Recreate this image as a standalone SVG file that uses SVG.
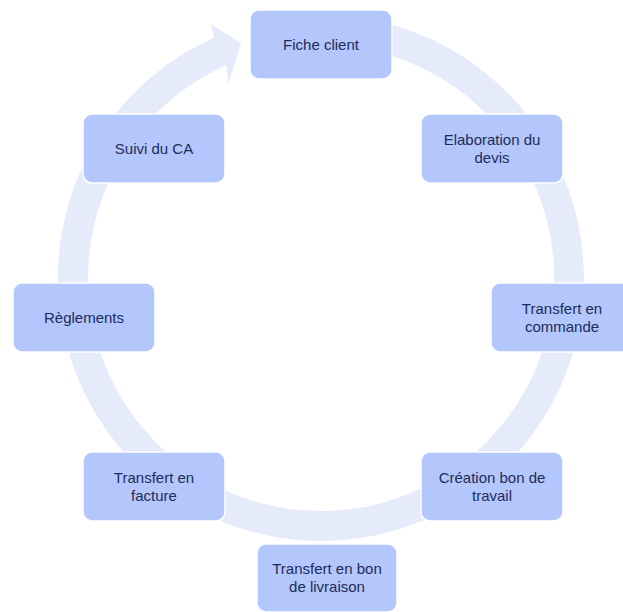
<svg xmlns="http://www.w3.org/2000/svg" width="623" height="612" viewBox="0 0 623 612">
<style>
.node rect{fill:#B3C7FC;stroke:#FFFFFF;stroke-width:1.5}
.node text{font-family:"Liberation Sans",Arial,sans-serif;font-size:15px;fill:#1E2B5B;text-anchor:middle}
.ring{fill:#E6EBFC}
</style>
<rect width="623" height="612" fill="#FFFFFF"/>
<g id="connectors">
<path class="ring" d="M 321 15 A 263 263 0 1 1 214.0 37.7 L 210.6 24.0 L 241.1 43.2 L 228.4 83.9 L 226.2 65.2 A 233 233 0 1 0 321 45 Z"/>
</g>
<g id="node-fiche-client" class="node">
<rect x="250" y="10" width="142" height="69" rx="9"/>
<text x="321" y="49.5">Fiche client</text>
</g>
<g id="node-elaboration-devis" class="node">
<rect x="421" y="114" width="142" height="69" rx="9"/>
<text x="492" y="144.8">Elaboration du<tspan x="492" y="162.6">devis</tspan></text>
</g>
<g id="node-transfert-commande" class="node">
<rect x="491" y="283" width="142" height="69" rx="9"/>
<text x="562" y="313.8">Transfert en<tspan x="562" y="331.6">commande</tspan></text>
</g>
<g id="node-creation-bon-travail" class="node">
<rect x="421" y="452" width="142" height="69" rx="9"/>
<text x="492" y="482.8">Création bon de<tspan x="492" y="500.6">travail</tspan></text>
</g>
<g id="node-transfert-livraison" class="node">
<rect x="257" y="544" width="140" height="68" rx="9"/>
<text x="327" y="574.3">Transfert en bon<tspan x="327" y="592.1">de livraison</tspan></text>
</g>
<g id="node-transfert-facture" class="node">
<rect x="83" y="452" width="142" height="69" rx="9"/>
<text x="154" y="483.3">Transfert en<tspan x="154" y="501.1">facture</tspan></text>
</g>
<g id="node-reglements" class="node">
<rect x="13" y="283" width="142" height="69" rx="9"/>
<text x="84" y="322.5">Règlements</text>
</g>
<g id="node-suivi-ca" class="node">
<rect x="83" y="114" width="142" height="69" rx="9"/>
<text x="154" y="153.5">Suivi du CA</text>
</g>
</svg>
